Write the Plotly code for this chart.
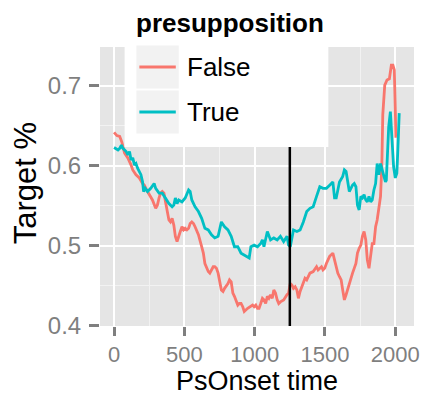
import plotly.graph_objects as go

# PsOnset time (ms) and target-fixation proportion for each presupposition condition
false_x = [0, 20, 40, 55, 75, 98, 121, 133, 156, 180, 203, 215, 238, 261, 273, 296, 308, 320, 331, 343,
           355, 366, 378, 390, 401, 413, 425, 436, 448, 460, 471, 483, 495, 506, 518, 530, 541, 553, 565, 576,
           600, 623, 635, 646, 658, 670, 681, 693, 705, 716, 728, 740, 751, 763, 775, 786, 810, 821, 833, 845,
           856, 868, 880, 891, 903, 915, 926, 950, 973, 985, 996, 1008, 1020, 1031, 1043, 1055, 1066, 1078, 1090, 1101,
           1113, 1125, 1136, 1148, 1160, 1171, 1183, 1206, 1230, 1241, 1253, 1265, 1276, 1288, 1300, 1311, 1323, 1335, 1346, 1358,
           1370, 1381, 1393, 1416, 1440, 1451, 1463, 1475, 1486, 1498, 1510, 1533, 1556, 1568, 1580, 1591, 1603, 1615, 1626, 1638,
           1650, 1673, 1696, 1720, 1731, 1743, 1755, 1766, 1778, 1790, 1801, 1813, 1825, 1836, 1848, 1860, 1871, 1883, 1895, 1904,
           1908, 1911, 1925, 1941, 1958, 1965, 1972, 1983, 1993, 2000, 2004, 2011]
false_y = [0.642, 0.638, 0.637, 0.630, 0.616, 0.610, 0.601, 0.595, 0.589, 0.585, 0.578, 0.576, 0.568, 0.560, 0.5575, 0.547, 0.551, 0.560, 0.566, 0.568,
           0.566, 0.555, 0.545, 0.5325, 0.530, 0.5345, 0.526, 0.512, 0.5055, 0.514, 0.518, 0.524, 0.520, 0.522, 0.520, 0.522, 0.528, 0.530, 0.528, 0.524,
           0.514, 0.499, 0.491, 0.478, 0.472, 0.468, 0.466, 0.470, 0.474, 0.474, 0.472, 0.466, 0.453, 0.445, 0.443, 0.447, 0.453, 0.4575, 0.455, 0.441,
           0.437, 0.4325, 0.426, 0.428, 0.428, 0.424, 0.418, 0.422, 0.424, 0.426, 0.424, 0.426, 0.422, 0.422, 0.428, 0.4345, 0.4325, 0.428, 0.437, 0.4345,
           0.439, 0.4345, 0.445, 0.441, 0.4325, 0.428, 0.430, 0.4325, 0.439, 0.441, 0.453, 0.451, 0.447, 0.449, 0.445, 0.4345, 0.443, 0.449, 0.455, 0.4595,
           0.4575, 0.4615, 0.466, 0.468, 0.474, 0.470, 0.472, 0.474, 0.470, 0.472, 0.478, 0.487, 0.491, 0.4825, 0.474, 0.466, 0.4615, 0.4575, 0.445, 0.4325,
           0.439, 0.453, 0.466, 0.478, 0.491, 0.497, 0.501, 0.512, 0.518, 0.5075, 0.4825, 0.472, 0.487, 0.503, 0.503, 0.524, 0.5325, 0.545, 0.562, 0.599,
           0.657, 0.664, 0.701, 0.7075, 0.709, 0.720, 0.726, 0.726, 0.720, 0.670, 0.637, 0.637]

true_x = [0, 28, 40, 52, 63, 86, 98, 110, 121, 133, 145, 156, 168, 180, 191, 203, 210, 222, 238, 261,
          273, 285, 296, 320, 343, 366, 390, 413, 425, 436, 448, 460, 483, 506, 530, 541, 553, 576, 600, 623,
          646, 670, 693, 716, 740, 763, 786, 810, 833, 856, 880, 903, 926, 950, 961, 973, 996, 1020, 1043, 1055,
          1066, 1090, 1113, 1136, 1160, 1183, 1206, 1230, 1241, 1253, 1265, 1276, 1300, 1323, 1346, 1370, 1393, 1416, 1440, 1463,
          1486, 1510, 1533, 1556, 1568, 1580, 1603, 1626, 1638, 1650, 1673, 1696, 1708, 1720, 1731, 1743, 1755, 1766, 1778, 1790,
          1801, 1813, 1825, 1836, 1848, 1860, 1871, 1883, 1895, 1906, 1918, 1930, 1936, 1944, 1953, 1965, 1976, 1988, 2000, 2011,
          2018, 2028]
true_y = [0.623, 0.620, 0.622, 0.626, 0.622, 0.618, 0.614, 0.618, 0.6075, 0.610, 0.601, 0.603, 0.597, 0.593, 0.589, 0.580, 0.568, 0.572, 0.568, 0.572,
          0.576, 0.578, 0.572, 0.566, 0.566, 0.560, 0.553, 0.549, 0.551, 0.560, 0.553, 0.5575, 0.555, 0.560, 0.570, 0.568, 0.5575, 0.549, 0.543, 0.5345,
          0.522, 0.520, 0.514, 0.510, 0.512, 0.530, 0.524, 0.520, 0.512, 0.499, 0.499, 0.491, 0.489, 0.487, 0.485, 0.499, 0.501, 0.499, 0.503, 0.5075,
          0.499, 0.518, 0.5075, 0.510, 0.5075, 0.512, 0.5055, 0.512, 0.501, 0.499, 0.512, 0.520, 0.518, 0.520, 0.530, 0.543, 0.547, 0.549, 0.562, 0.574,
          0.572, 0.572, 0.576, 0.580, 0.560, 0.560, 0.580, 0.587, 0.595, 0.593, 0.568, 0.576, 0.578, 0.574, 0.551, 0.545, 0.562, 0.560, 0.564, 0.5575,
          0.555, 0.562, 0.555, 0.5575, 0.570, 0.578, 0.603, 0.589, 0.603, 0.595, 0.585, 0.580, 0.582, 0.620, 0.649, 0.668, 0.641, 0.599, 0.585, 0.591,
          0.620, 0.666]

assert len(false_x) == len(false_y) and len(true_x) == len(true_y)

series_names = ["False", "True"]
series_colors = ["#F8766D", "#00BFC4"]
onset_marker = 1250
x_ticks = [0, 500, 1000, 1500, 2000]
y_ticks = [0.4, 0.5, 0.6, 0.7]

W, H = 427, 396
L, R, T, B = 100, 419, 47, 326  # plot-area edges in pixels


def px_x(px):
    return (px - L) / (R - L)


def px_y(py):
    return (B - py) / (B - T)


FONT = "Liberation Sans, Arial, Helvetica, sans-serif"
GREY = "#7f7f7f"

fig = go.Figure()
for name, color, xs, ys in zip(series_names, series_colors, [false_x, true_x], [false_y, true_y]):
    fig.add_trace(go.Scatter(x=xs, y=ys, mode="lines", name=name,
                             line=dict(color=color, width=2.8), showlegend=False))

shapes = [
    # vertical reference line at the onset
    dict(type="line", xref="x", yref="paper", x0=onset_marker, x1=onset_marker, y0=0, y1=1,
         line=dict(color="black", width=2.5), layer="above"),
    # legend box
    dict(type="rect", xref="paper", yref="paper", x0=px_x(125), x1=px_x(332), y0=px_y(147), y1=px_y(0),
         fillcolor="white", line=dict(width=0), layer="above"),
]
annotations = [
    dict(text="<b>presupposition</b>", xref="paper", yref="paper", x=px_x(135), y=px_y(23),
         xanchor="left", yanchor="middle", showarrow=False, font=dict(family=FONT, size=26, color="black")),
]
key_rows = [67, 112]
for name, color, cy in zip(series_names, series_colors, key_rows):
    shapes.append(dict(type="rect", xref="paper", yref="paper", x0=px_x(137), x1=px_x(180),
                       y0=px_y(cy + 21.5), y1=px_y(cy - 21.5), fillcolor="#f2f2f2",
                       line=dict(width=0), layer="above"))
    shapes.append(dict(type="line", xref="paper", yref="paper", x0=px_x(140), x1=px_x(177),
                       y0=px_y(cy), y1=px_y(cy), line=dict(color=color, width=2.8), layer="above"))
    annotations.append(dict(text=name, xref="paper", yref="paper", x=px_x(186), y=px_y(cy),
                            xanchor="left", yanchor="middle", showarrow=False,
                            font=dict(family=FONT, size=26, color="black")))

# axis titles
annotations.append(dict(text="PsOnset time", xref="paper", yref="paper", x=px_x(259), y=px_y(381),
                        xanchor="center", yanchor="middle", showarrow=False,
                        font=dict(family=FONT, size=27, color="black")))
annotations.append(dict(text="Target %", xref="paper", yref="paper", x=px_x(24), y=px_y(183),
                        xanchor="center", yanchor="middle", showarrow=False, textangle=-90,
                        font=dict(family=FONT, size=31, color="black")))

fig.update_layout(
    width=W, height=H,
    margin=dict(l=L, r=W - R, t=T, b=H - B, pad=0),
    paper_bgcolor="white", plot_bgcolor="#e5e5e5",
    shapes=shapes, annotations=annotations, showlegend=False,
    font=dict(family=FONT),
)
fig.update_xaxes(
    range=[-100, 2133], tickvals=x_ticks, ticktext=[str(v) for v in x_ticks],
    ticks="outside", ticklen=9, tickwidth=2.5, tickcolor=GREY,
    tickfont=dict(family=FONT, size=22, color=GREY),
    showgrid=True, gridcolor="white", gridwidth=2, zeroline=False, showline=False,
    minor=dict(tickvals=[250, 750, 1250, 1750], showgrid=True, gridcolor="#f2f2f2", gridwidth=1, ticks=""),
)
fig.update_yaxes(
    range=[0.3999, 0.7487], tickvals=y_ticks, ticktext=[f"{v:.1f}" for v in y_ticks],
    ticks="outside", ticklen=10, tickwidth=2.5, tickcolor=GREY, ticklabelstandoff=3,
    tickfont=dict(family=FONT, size=24, color=GREY),
    showgrid=True, gridcolor="white", gridwidth=2, zeroline=False, showline=False,
    minor=dict(tickvals=[0.45, 0.55, 0.65], showgrid=True, gridcolor="#f2f2f2", gridwidth=1, ticks=""),
)

fig.write_html("out.html")
